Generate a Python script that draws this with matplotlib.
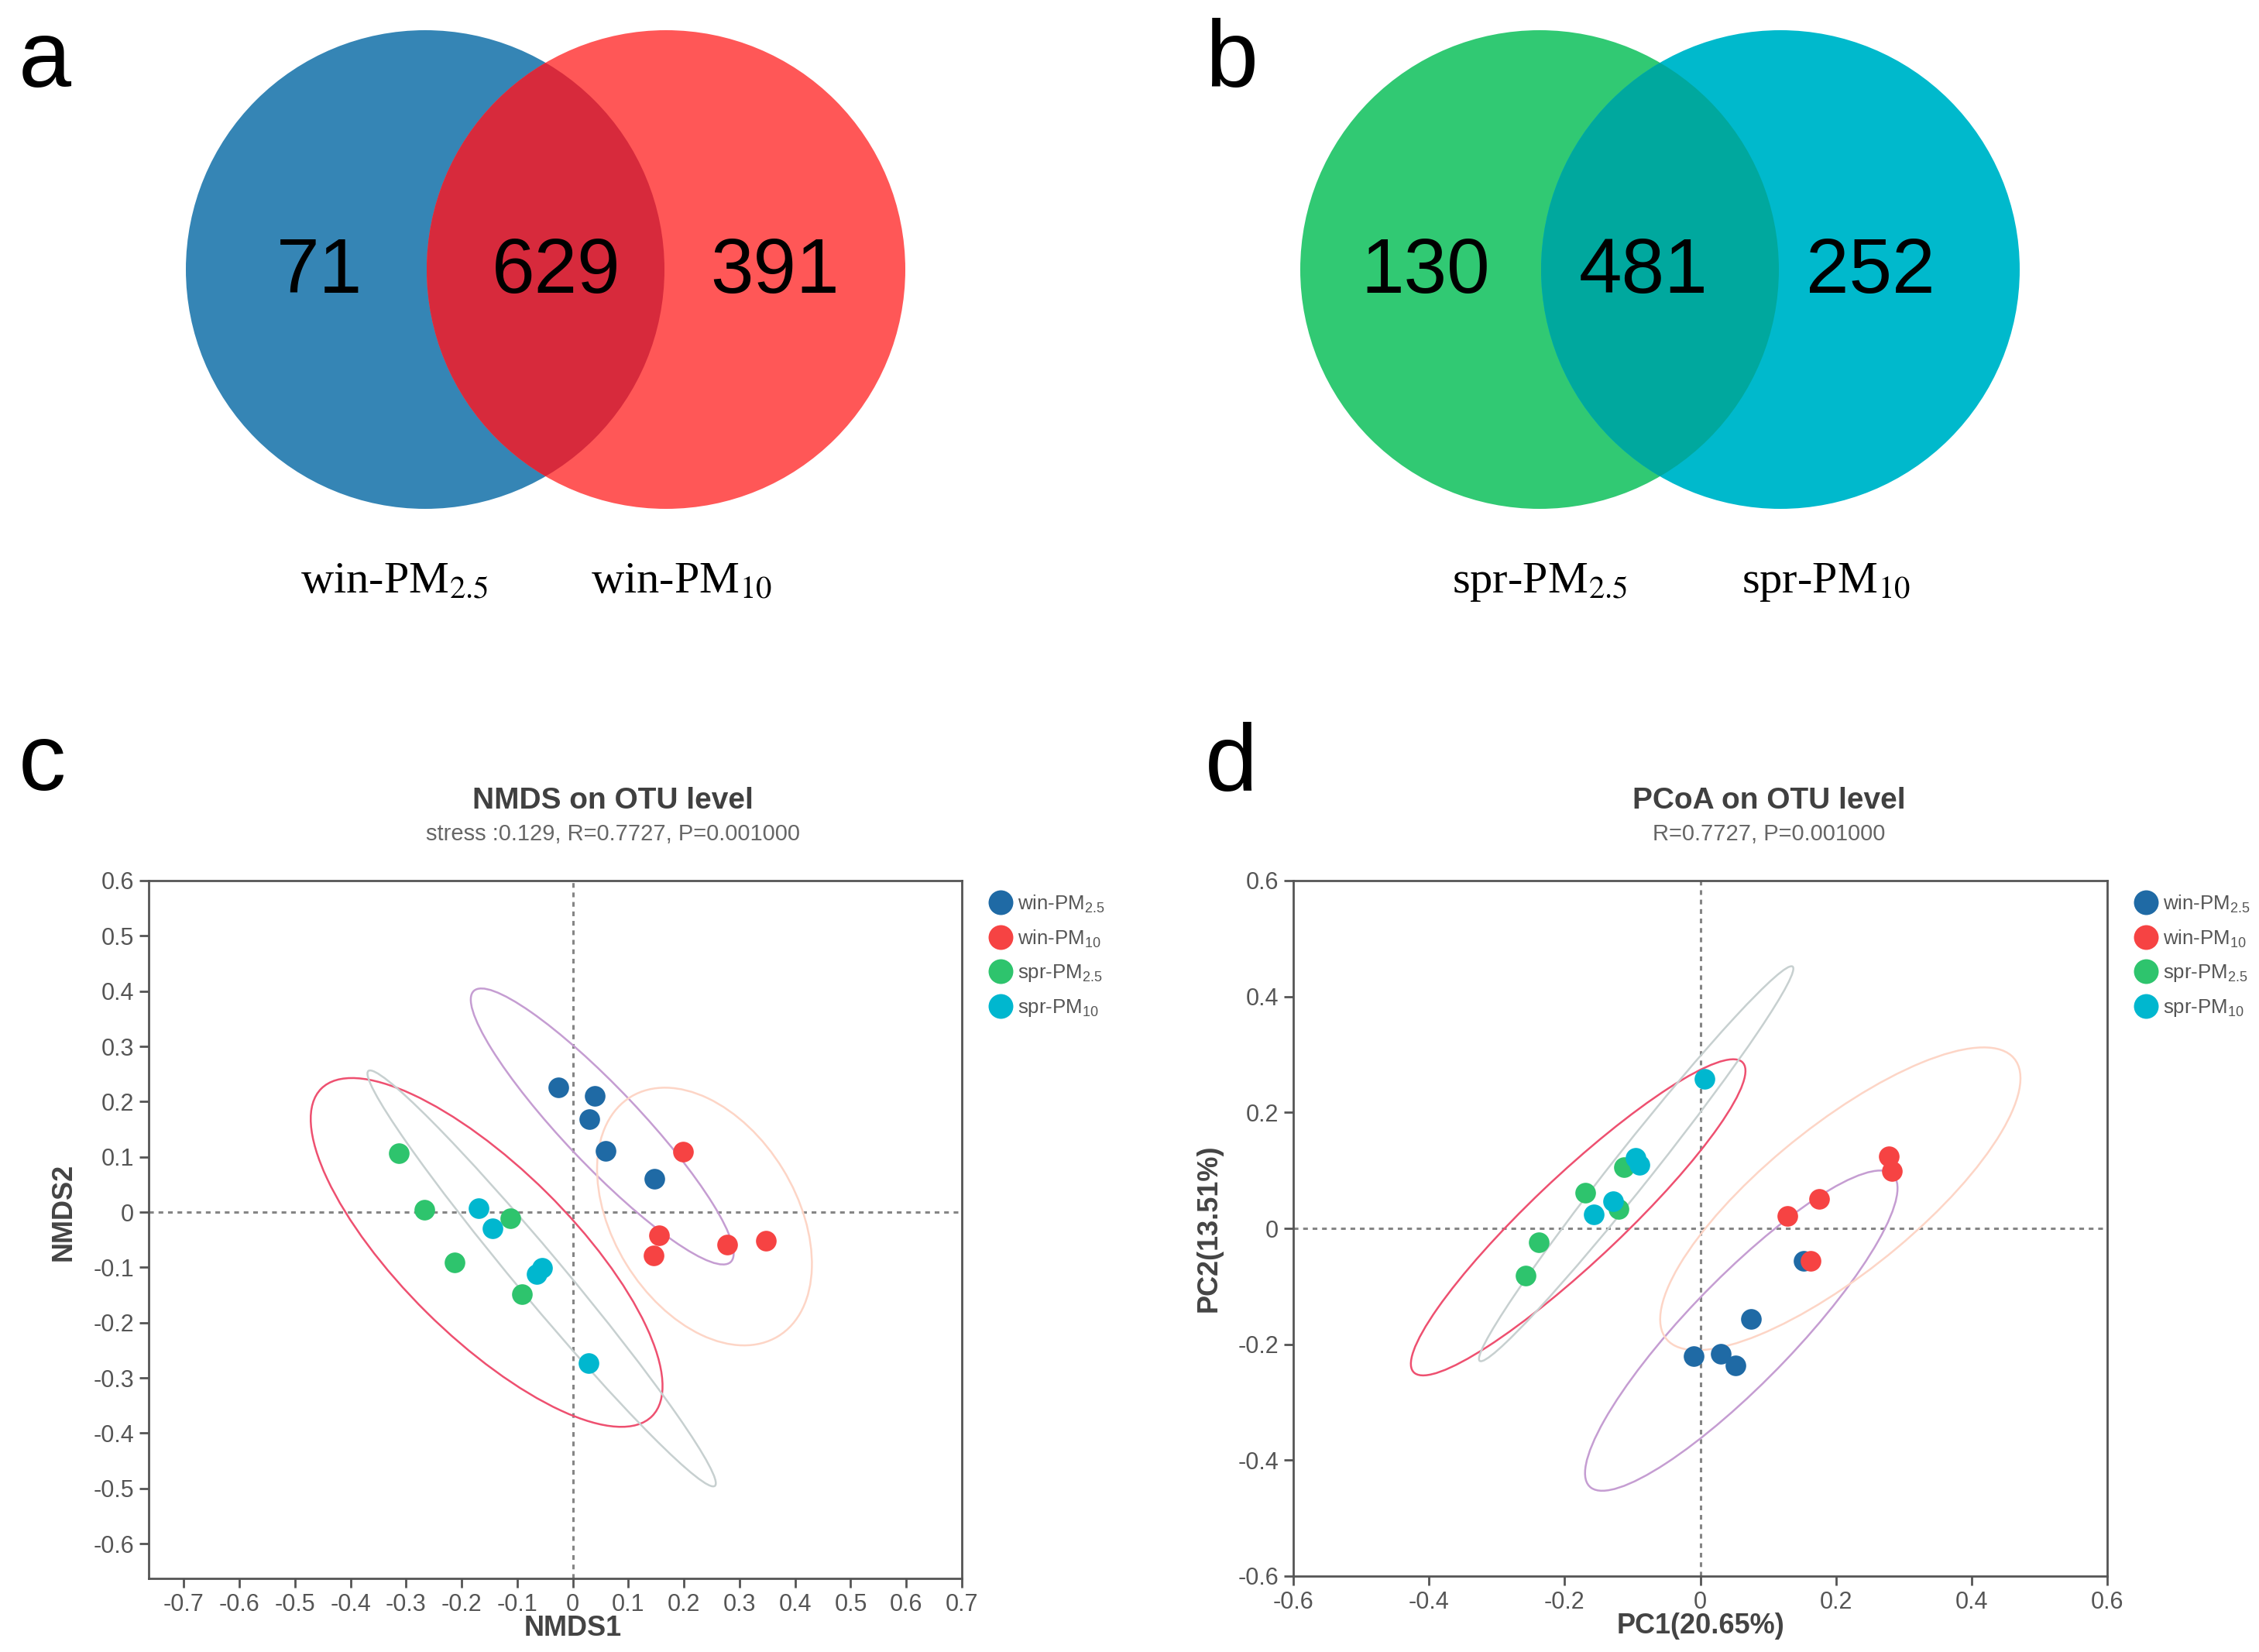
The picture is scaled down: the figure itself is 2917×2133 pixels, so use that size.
"""
Venn diagrams (a, b) + NMDS / PCoA ordination plots (c, d).
"""

import matplotlib

matplotlib.use("Agg")
import matplotlib.pyplot as plt
from matplotlib.lines import Line2D
from matplotlib.patches import Circle, Ellipse

W, H = 2917, 2133
DPI = 200

plt.rcParams["font.family"] = ["Liberation Sans", "DejaVu Sans"]
plt.rcParams["axes.unicode_minus"] = False
plt.rcParams["mathtext.fontset"] = "custom"
plt.rcParams["mathtext.rm"] = "Liberation Sans"

# ---- data ----
venn_a_counts = [71, 629, 391]
venn_a_labels = [r"win-PM$_{\mathrm{2.5}}$", r"win-PM$_{\mathrm{10}}$"]
venn_a_colors = ["#3585b5", "#ff5757", "#d72a3c"]

venn_b_counts = [130, 481, 252]
venn_b_labels = [r"spr-PM$_{\mathrm{2.5}}$", r"spr-PM$_{\mathrm{10}}$"]
venn_b_colors = ["#31c973", "#00b9cc", "#00a89e"]

groups = [r"win-PM$_{\mathrm{2.5}}$", r"win-PM$_{\mathrm{10}}$",
          r"spr-PM$_{\mathrm{2.5}}$", r"spr-PM$_{\mathrm{10}}$"]
point_colors = ["#1f6aa5", "#f64343", "#2ec46d", "#00b7cf"]
ellipse_colors = ["#c59dd2", "#fdd5c6", "#ee5070", "#c7d0d0"]

# NMDS scores, one list per group
nmds1 = [
    [-0.026, 0.039, 0.030, 0.059, 0.147],
    [0.199, 0.155, 0.146, 0.278, 0.347],
    [-0.313, -0.267, -0.113, -0.213, -0.091],
    [-0.169, -0.145, -0.055, -0.065, 0.029],
]
nmds2 = [
    [0.226, 0.211, 0.168, 0.111, 0.060],
    [0.109, -0.042, -0.079, -0.059, -0.052],
    [0.106, 0.004, -0.011, -0.091, -0.149],
    [0.007, -0.030, -0.101, -0.112, -0.273],
]
# confidence ellipses: centre x, centre y, semi-major, semi-minor, angle
nmds_ell_x = [0.053, 0.237, -0.155, -0.056]
nmds_ell_y = [0.155, -0.008, -0.073, -0.120]
nmds_ell_a = [0.337, 0.254, 0.420, 0.488]
nmds_ell_b = [0.069, 0.165, 0.153, 0.042]
nmds_ell_ang = [-46.7, -58.6, -44.9, -50.3]

# PCoA scores
pc1 = [
    [-0.010, 0.030, 0.052, 0.075, 0.152],
    [0.278, 0.283, 0.175, 0.128, 0.163],
    [-0.113, -0.170, -0.120, -0.238, -0.258],
    [0.006, -0.095, -0.090, -0.128, -0.157],
]
pc2 = [
    [-0.221, -0.217, -0.236, -0.156, -0.056],
    [0.124, 0.099, 0.051, 0.022, -0.056],
    [0.105, 0.061, 0.034, -0.024, -0.082],
    [0.258, 0.121, 0.109, 0.047, 0.024],
]
pcoa_ell_x = [0.0605, 0.2065, -0.180, -0.0945]
pcoa_ell_y = [-0.1765, 0.051, 0.019, 0.1115]
pcoa_ell_a = [0.350, 0.353, 0.361, 0.411]
pcoa_ell_b = [0.083, 0.119, 0.070, 0.030]
pcoa_ell_ang = [50.8, 44.4, 48.1, 55.9]

nmds_ticks = [-0.7, -0.6, -0.5, -0.4, -0.3, -0.2, -0.1, 0, 0.1, 0.2, 0.3, 0.4, 0.5, 0.6, 0.7]
nmds_yticks = [-0.6, -0.5, -0.4, -0.3, -0.2, -0.1, 0, 0.1, 0.2, 0.3, 0.4, 0.5, 0.6]
pcoa_ticks = [-0.6, -0.4, -0.2, 0, 0.2, 0.4, 0.6]


def px(x, y):
    return x / W, 1 - y / H


fig = plt.figure(figsize=(W / DPI, H / DPI), dpi=DPI)

# overlay in pixel coordinates for the Venn diagrams and panel letters
ov = fig.add_axes([0, 0, 1, 1])
ov.set_xlim(0, W)
ov.set_ylim(H, 0)
ov.axis("off")


def draw_venn(cx_left, cx_right, cy, r, counts, labels, colors, num_x, lab_x):
    left = Circle((cx_left, cy), r, color=colors[0], lw=0)
    right = Circle((cx_right, cy), r, color=colors[1], lw=0)
    ov.add_patch(left)
    ov.add_patch(right)
    lens = Circle((cx_right, cy), r, color=colors[2], lw=0)
    ov.add_patch(lens)
    lens.set_clip_path(left)
    for x, n in zip(num_x, counts):
        ov.text(x, cy + 4, str(n), ha="center", va="center", fontsize=36, color="black")
    for x, lab in zip(lab_x, labels):
        ov.text(x, 752, lab, ha="center", va="center", fontsize=21,
                family="Liberation Serif", math_fontfamily="stix", color="black")


draw_venn(549, 860, 348, 309, venn_a_counts, venn_a_labels, venn_a_colors,
          [413, 718, 1001], [509, 880])
draw_venn(1988, 2299, 348, 309, venn_b_counts, venn_b_labels, venn_b_colors,
          [1841, 2122, 2415], [1988, 2358])

for letter, x, y in [("a", 24, 112), ("b", 1556, 112), ("c", 24, 1020), ("d", 1556, 1020)]:
    ov.text(x, y, letter, ha="left", va="baseline", fontsize=44, color="black")


def fmt(v):
    return f"{v:g}"


def ordination(rect, xs, ys, ex, ey, ea, eb, eang, xticks, yticks, xlim, ylim,
               xlabel, ylabel):
    ax = fig.add_axes(rect)
    ax.set_xlim(*xlim)
    ax.set_ylim(*ylim)
    ax.axhline(0, color="#858585", lw=1.1, ls=(0, (2, 2)), zorder=1)
    ax.axvline(0, color="#858585", lw=1.1, ls=(0, (2, 2)), zorder=1)
    for i in range(4):
        ax.add_patch(Ellipse((ex[i], ey[i]), 2 * ea[i], 2 * eb[i], angle=eang[i],
                             fill=False, ec=ellipse_colors[i], lw=0.9, zorder=2))
    for i in range(4):
        ax.scatter(xs[i], ys[i], s=92, color=point_colors[i], lw=0, zorder=3)
    ax.set_xticks(xticks)
    ax.set_xticklabels([fmt(v) for v in xticks])
    ax.set_yticks(yticks)
    ax.set_yticklabels([fmt(v) for v in yticks])
    ax.tick_params(direction="out", length=4.3, width=1, color="#555555",
                   labelsize=11, labelcolor="#555555", pad=2.5)
    for s in ax.spines.values():
        s.set_color("#555555")
        s.set_linewidth(1)
    ax.text(0, -0.072, xlabel, transform=ax.get_xaxis_transform(), ha="center",
            va="center", fontsize=13, fontweight="bold", color="#444444")
    handles = [Line2D([], [], marker="o", ls="", color=c, markersize=11.5, mew=0)
               for c in point_colors]
    ax.legend(handles, groups, loc="upper left", bbox_to_anchor=(1.035, 0.982),
              frameon=False, borderpad=0, borderaxespad=0, handlelength=1.0,
              handletextpad=0.35, labelspacing=0.68, prop={"size": 9.3},
              labelcolor="#555555")
    return ax


ax_c = ordination([192 / W, 1 - 2038 / H, 1050 / W, 901 / H], nmds1, nmds2,
                  nmds_ell_x, nmds_ell_y, nmds_ell_a, nmds_ell_b, nmds_ell_ang,
                  nmds_ticks, nmds_yticks, (-0.763, 0.7), (-0.663, 0.6),
                  "NMDS1", "NMDS2")
ax_c.text(-0.105, 0, "NMDS2", transform=ax_c.get_yaxis_transform(), rotation=90,
          ha="center", va="center", fontsize=13, fontweight="bold", color="#444444")

ax_d = ordination([1670 / W, 1 - 2035 / H, 1051 / W, 898 / H], pc1, pc2,
                  pcoa_ell_x, pcoa_ell_y, pcoa_ell_a, pcoa_ell_b, pcoa_ell_ang,
                  pcoa_ticks, pcoa_ticks, (-0.6, 0.6), (-0.6, 0.6),
                  "PC1(20.65%)", "PC2(13.51%)")
ax_d.text(-0.104, 0, "PC2(13.51%)", transform=ax_d.get_yaxis_transform(), rotation=90,
          ha="center", va="center", fontsize=13, fontweight="bold", color="#444444")

fig.text(*px(791, 1034), "NMDS on OTU level", ha="center", va="center",
         fontsize=14, fontweight="bold", color="#404040")
fig.text(*px(791, 1077), "stress :0.129, R=0.7727, P=0.001000", ha="center",
         va="center", fontsize=10.5, color="#666666")
fig.text(*px(2284, 1034), "PCoA on OTU level", ha="center", va="center",
         fontsize=14, fontweight="bold", color="#404040")
fig.text(*px(2284, 1077), "R=0.7727, P=0.001000", ha="center",
         va="center", fontsize=10.5, color="#666666")

fig.savefig("out.png", dpi=DPI)
